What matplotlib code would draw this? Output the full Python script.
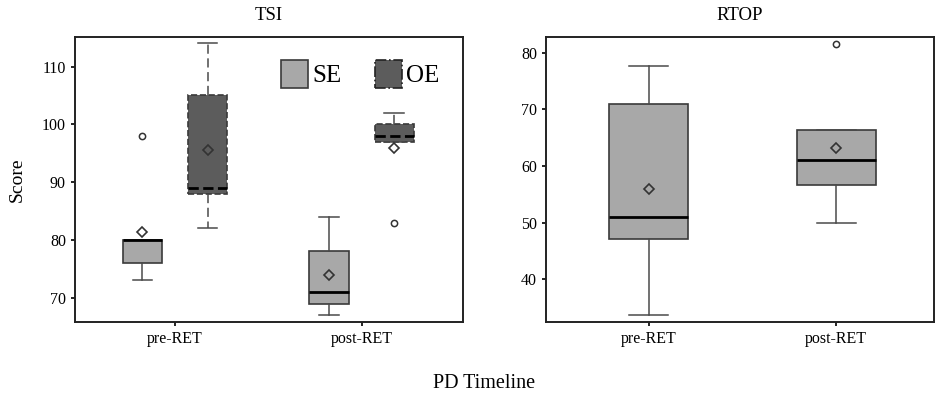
import matplotlib.pyplot as plt
from matplotlib.patches import Patch

plt.rcParams['font.family'] = ['Liberation Serif', 'DejaVu Serif']

# TSI panel: SE and OE groups at two time points
categories = ['pre-RET', 'post-RET']
groups = ['SE', 'OE']

tsi_q1 = {'SE': [76, 69], 'OE': [88, 97]}
tsi_med = {'SE': [80, 71], 'OE': [89, 98]}
tsi_q3 = {'SE': [80, 78], 'OE': [105, 100]}
tsi_whislo = {'SE': [73, 67], 'OE': [82, 97]}
tsi_whishi = {'SE': [80, 84], 'OE': [114, 102]}
tsi_mean = {'SE': [81.4, 73.9], 'OE': [95.6, 95.9]}
tsi_fliers = {'SE': [[98], []], 'OE': [[], [83]]}

# RTOP panel: one box per time point
rtop_q1 = [47, 56.7]
rtop_med = [51, 61]
rtop_q3 = [70.9, 66.3]
rtop_whislo = [33.7, 50]
rtop_whishi = [77.7, 66.3]
rtop_mean = [56, 63.1]
rtop_fliers = [[], [81.6]]

se_fill = '#a8a8a8'
oe_fill = '#5c5c5c'
edge = '#3a3a3a'


def make_stats(q1, med, q3, lo, hi, mean, fliers):
    return [dict(q1=q1[i], med=med[i], q3=q3[i], whislo=lo[i], whishi=hi[i],
                 mean=mean[i], fliers=fliers[i]) for i in range(len(q1))]


def draw_boxes(ax, stats, pos, width, fill, ls):
    ax.bxp(stats, positions=pos, widths=width, showmeans=True,
           patch_artist=True, manage_ticks=False,
           boxprops=dict(facecolor=fill, edgecolor=edge, linewidth=1.2, linestyle=ls),
           whiskerprops=dict(color='#4a4a4a', linewidth=1.1, linestyle=ls if ls == '-' else (0, (6, 3))),
           capprops=dict(color='#4a4a4a', linewidth=1.1),
           medianprops=dict(color='black', linewidth=2.0, linestyle=ls),
           meanprops=dict(marker='D', markerfacecolor='none', markeredgecolor='#333333',
                          markersize=5.5, markeredgewidth=1.2),
           flierprops=dict(marker='o', markerfacecolor='none', markeredgecolor='#333333',
                           markersize=4.5, markeredgewidth=1.1))


def style_axes(ax):
    for s in ax.spines.values():
        s.set_linewidth(1.4)
        s.set_color('#222222')
    ax.tick_params(axis='both', direction='out', length=3, width=1.2, labelsize=11.5)
    ax.set_xticks([0, 1])
    ax.set_xticklabels(categories)


fig = plt.figure(figsize=(9.36, 3.99), dpi=100)
ax1 = fig.add_axes([0.0801, 0.193, 0.4145, 0.714])
ax2 = fig.add_axes([0.5833, 0.193, 0.4145, 0.714])

xs = range(len(categories))
offsets = {'SE': -0.175, 'OE': 0.175}
fills = {'SE': se_fill, 'OE': oe_fill}
styles = {'SE': '-', 'OE': '--'}
for g in groups:
    st = make_stats(tsi_q1[g], tsi_med[g], tsi_q3[g], tsi_whislo[g],
                    tsi_whishi[g], tsi_mean[g], tsi_fliers[g])
    draw_boxes(ax1, st, [x + offsets[g] for x in xs], 0.21, fills[g], styles[g])

ax1.set_xlim(-0.536, 1.543)
ax1.set_ylim(65.8, 115.1)
ax1.set_yticks([70, 80, 90, 100, 110])
style_axes(ax1)
ax1.set_title('TSI', fontsize=13.5, pad=12)
ax1.set_ylabel('Score', fontsize=14, labelpad=12)

handles = [Patch(facecolor=se_fill, edgecolor=edge, linewidth=1.2, label='SE'),
           Patch(facecolor=oe_fill, edgecolor='#222222', linewidth=1.2, linestyle='-.', label='OE')]
ax1.legend(handles=handles, loc='upper right', bbox_to_anchor=(0.965, 0.953), ncol=2,
           frameon=False, fontsize=18, handlelength=1.1, handleheight=1.3,
           handletextpad=0.15, columnspacing=1.35, borderaxespad=0)

st = make_stats(rtop_q1, rtop_med, rtop_q3, rtop_whislo, rtop_whishi, rtop_mean, rtop_fliers)
draw_boxes(ax2, st, list(xs), 0.42, se_fill, '-')
ax2.set_xlim(-0.546, 1.52)
ax2.set_ylim(32.4, 82.8)
ax2.set_yticks([40, 50, 60, 70, 80])
style_axes(ax2)
ax2.set_title('RTOP', fontsize=13.5, pad=12)

fig.text(0.517, 0.038, 'PD Timeline', fontsize=14.5, ha='center', va='center')

fig.savefig('out.png', dpi=100)
